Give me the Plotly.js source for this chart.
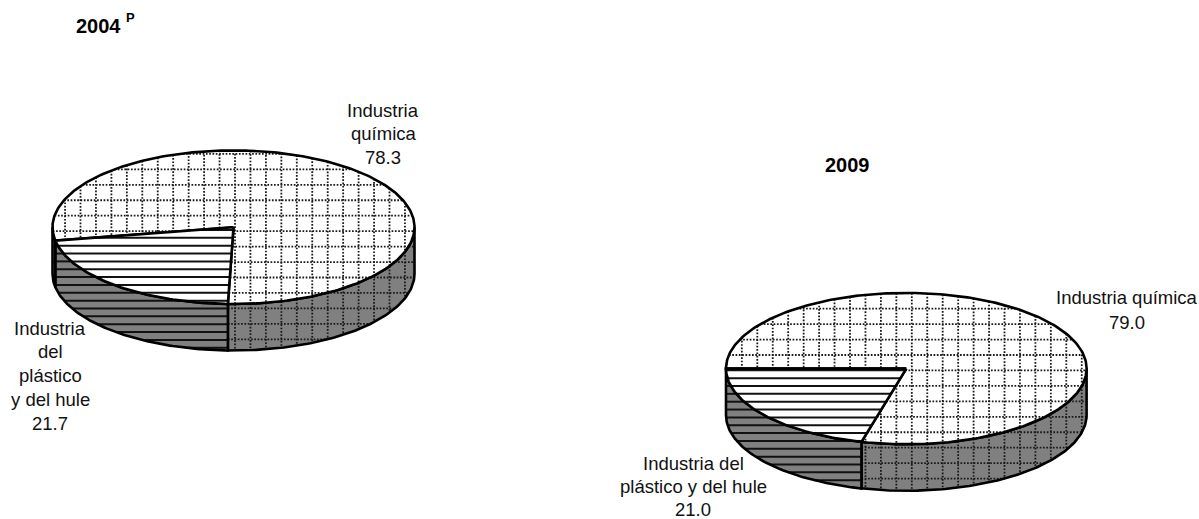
<!DOCTYPE html>
<html>
<head>
<meta charset="utf-8">
<script src="https://cdn.plot.ly/plotly-3.0.1.min.js"></script>
<style>html,body{margin:0;padding:0;background:#fff}#chart{width:1199px;height:519px}</style>
</head>
<body>
<div id="chart"></div>
<script>
// ---- data ----
const years = ["2004", "2009"];
const quimica = [78.3, 79.0];
const plastico = [21.7, 21.0];

// ---- label text (one entry per printed line) ----
const quimicaLines = [["Industria", "química", "78.3"], ["Industria química", "79.0"]];
const plasticoLines = [["Industria", "del", "plástico", "y del hule", "21.7"], ["Industria del", "plástico y del hule", "21.0"]];

// ---- geometry and style ----
const pies = [
  {cx: 233.5, cy: 227.2, rx: 181, ry: 76.8, depth: 46.5, start: 259.9, gx: 235, gy: 215.7, sy: 245.7,
   qx: 383, qy: 110, px: 50, py: 328, lineGap: 23.8, qGap: 23.8},
  {cx: 906.3, cy: 368.6, rx: 180.3, ry: 75.7, depth: 46.5, start: 270, gx: 850, gy: 355, sy: 386,
   qx: 1126.5, qy: 297, px: 693, py: 463, lineGap: 23, qGap: 25}
];
const gridStep = 15.45, stripeStep = 7.85;
const GREY = "#808080", INK = "#000000";

function pt(p, deg, dy) {
  const t = deg * Math.PI / 180;
  return [p.cx + p.rx * Math.sin(t), p.cy - p.ry * Math.cos(t) + dy];
}
function arc(p, a, b, dy) {
  const n = Math.max(2, Math.ceil(Math.abs(b - a))), out = [];
  for (let i = 0; i <= n; i++) out.push(pt(p, a + (b - a) * i / n, dy));
  return out;
}
function wedge(p, a, b) { return [[p.cx, p.cy]].concat(arc(p, a, b, 0)); }
function side(p, a, b) { return arc(p, a, b, 0).concat(arc(p, b, a, p.depth)); }

// hatch lines clipped to a polygon (axis 0: vertical lines at x, axis 1: horizontal lines at y)
function hatch(poly, axis, base, step, xs, ys) {
  const vals = poly.map(q => q[axis]);
  const lo = Math.min(...vals), hi = Math.max(...vals);
  let v = base + Math.ceil((lo - base) / step) * step;
  for (; v <= hi; v += step) {
    const cuts = [];
    for (let i = 0; i < poly.length; i++) {
      const A = poly[i], B = poly[(i + 1) % poly.length];
      if ((A[axis] <= v) !== (B[axis] <= v)) {
        const f = (v - A[axis]) / (B[axis] - A[axis]);
        cuts.push(A[1 - axis] + f * (B[1 - axis] - A[1 - axis]));
      }
    }
    cuts.sort((m, n) => m - n);
    for (let i = 0; i + 1 < cuts.length; i += 2) {
      if (axis === 1) { xs.push(cuts[i], cuts[i + 1], null); ys.push(v, v, null); }
      else { xs.push(v, v, null); ys.push(cuts[i], cuts[i + 1], null); }
    }
  }
}

const traces = [];
function addPoly(poly, fill, kind, p) {
  const cl = poly.concat([poly[0]]);
  const x = cl.map(q => q[0]), y = cl.map(q => q[1]);
  traces.push({type: "scatter", mode: "lines", x, y, fill: "toself", fillcolor: fill,
    line: {width: 0, color: fill}, hoverinfo: "skip", showlegend: false});
  const hx = [], hy = [];
  if (kind === "grid") {
    hatch(poly, 0, p.gx, gridStep, hx, hy);
    hatch(poly, 1, p.gy, gridStep, hx, hy);
    traces.push({type: "scatter", mode: "lines", x: hx, y: hy, connectgaps: false,
      line: {width: 1.8, color: "#1a1a1a", dash: "1.7px,1.6px"}, hoverinfo: "skip", showlegend: false});
  } else {
    hatch(poly, 1, p.sy, stripeStep, hx, hy);
    traces.push({type: "scatter", mode: "lines", x: hx, y: hy, connectgaps: false,
      line: {width: 2, color: "#111111"}, hoverinfo: "skip", showlegend: false});
  }
  traces.push({type: "scatter", mode: "lines", x, y,
    line: {width: 2.6, color: INK}, hoverinfo: "skip", showlegend: false});
}

const annotations = [];
function label(x, y, text, opts) {
  annotations.push(Object.assign({xref: "x", yref: "y", x, y, text, showarrow: false,
    xanchor: "center", yanchor: "middle", font: {family: "Liberation Sans", size: 18.5, color: "#111111"}}, opts || {}));
}

pies.forEach((p, i) => {
  const a = p.start;                          // plastic wedge ends here, quimica starts
  const b = a + quimica[i] * 3.6;             // quimica ends
  const plasticStart = a - plastico[i] * 3.6; // equals b - 360
  // side walls (visible lower half: 90..270 degrees clockwise from top)
  addPoly(side(p, 90, plasticStart), GREY, "grid", p);
  addPoly(side(p, plasticStart, a), GREY, "stripe", p);
  if (a < 270) addPoly(side(p, a, 270), GREY, "grid", p);
  // top faces
  addPoly(wedge(p, a, b), "#ffffff", "grid", p);
  addPoly(wedge(p, plasticStart, a), "#ffffff", "stripe", p);
  quimicaLines[i].forEach((t, k) => label(p.qx, p.qy + k * p.qGap, t));
  plasticoLines[i].forEach((t, k) => label(p.px, p.py + k * p.lineGap, t));
});

const boldFont = {family: "Liberation Sans", size: 20, color: "#000000"};
label(98.5, 26, "<b>" + years[0] + "</b>", {font: boldFont});
label(130, 17, "<b>P</b>", {font: {family: "Liberation Sans", size: 13, color: "#000000"}});
label(847.5, 165, "<b>" + years[1] + "</b>", {font: boldFont});

const layout = {
  width: 1199, height: 519, margin: {l: 0, r: 0, t: 0, b: 0},
  paper_bgcolor: "#ffffff", plot_bgcolor: "#ffffff",
  xaxis: {range: [0, 1199], visible: false, fixedrange: true},
  yaxis: {range: [519, 0], visible: false, fixedrange: true},
  showlegend: false, annotations
};
Plotly.newPlot("chart", traces, layout, {displayModeBar: false, staticPlot: true});
</script>
</body>
</html>
